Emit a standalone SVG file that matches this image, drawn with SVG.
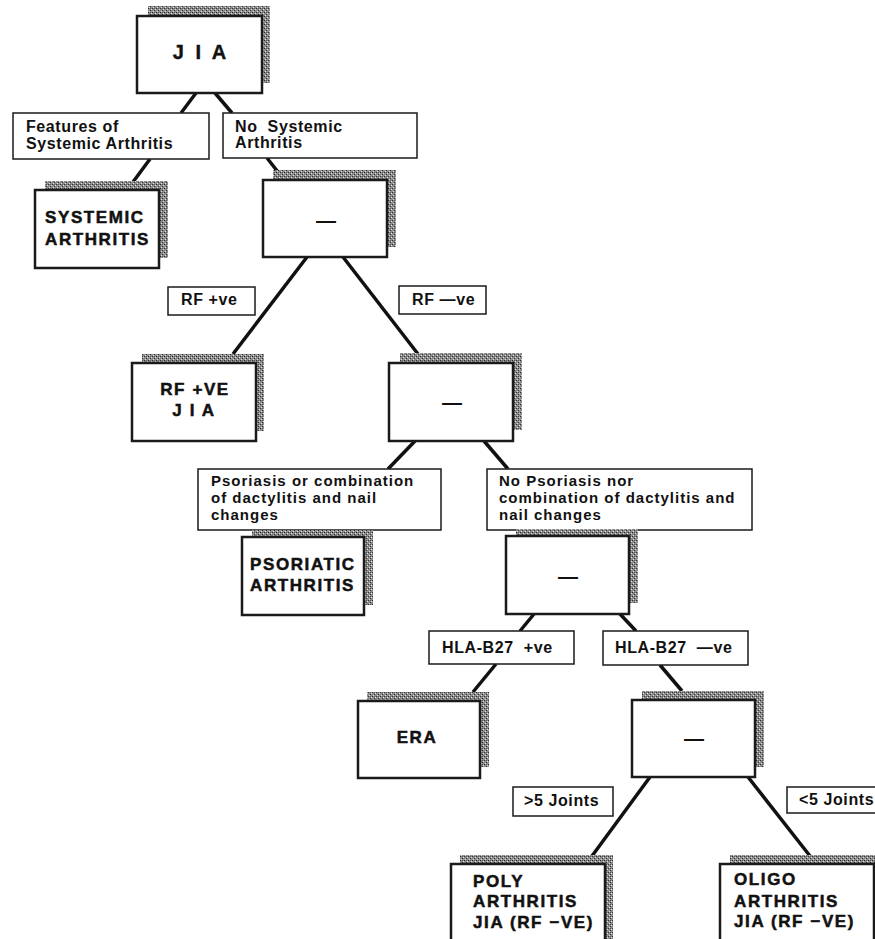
<svg xmlns="http://www.w3.org/2000/svg" width="875" height="939" viewBox="0 0 875 939">
<defs>
<pattern id="hatch" width="4" height="4" patternUnits="userSpaceOnUse">
<rect width="4" height="4" fill="#8c8c8c"/>
<rect x="0" y="0" width="1" height="1" fill="#2e2e2e"/>
<rect x="2" y="2" width="1" height="1" fill="#2e2e2e"/>
<rect x="2" y="0" width="1" height="1" fill="#555"/>
<rect x="1" y="3" width="1" height="1" fill="#dddddd"/>
<rect x="3" y="1" width="1" height="1" fill="#dddddd"/>
</pattern>
</defs>
<style>
.sh{fill:url(#hatch);}
.bx{fill:#fff;stroke:#1a1a1a;stroke-width:2.5;}
.lb{fill:#fff;stroke:#1a1a1a;stroke-width:1.5;}
.lt{font-family:"Liberation Sans",Arial,sans-serif;font-weight:bold;font-size:16px;letter-spacing:0.6px;fill:#111;}
.ls{font-family:"Liberation Sans",Arial,sans-serif;font-weight:bold;font-size:15px;letter-spacing:1px;fill:#111;}
.nt{font-family:"Liberation Sans",Arial,sans-serif;font-weight:900;font-size:17px;letter-spacing:1.6px;fill:#111;stroke:#111;stroke-width:0.5;}
.jt{font-family:"Liberation Sans",Arial,sans-serif;font-weight:bold;font-size:20px;letter-spacing:3px;fill:#111;stroke:#111;stroke-width:0.4;}
.dash{font-family:"Liberation Sans",Arial,sans-serif;font-weight:bold;font-size:20px;fill:#111;text-anchor:middle;}
.cn{stroke:#111;stroke-width:3.5;fill:none;stroke-linecap:butt;}
</style>
<rect width="875" height="939" fill="#fff"/>

<g id="connectors">
<line class="cn" x1="196" y1="93" x2="181" y2="113"/>
<line class="cn" x1="215" y1="93" x2="232" y2="113"/>
<line class="cn" x1="150" y1="159" x2="133" y2="182"/>
<line class="cn" x1="267" y1="158" x2="278" y2="172"/>
<line class="cn" x1="307" y1="257" x2="233" y2="354"/>
<line class="cn" x1="343" y1="257" x2="418" y2="354"/>
<line class="cn" x1="415" y1="441" x2="388" y2="469"/>
<line class="cn" x1="484" y1="441" x2="508" y2="469"/>
<line class="cn" x1="534" y1="614" x2="520" y2="631"/>
<line class="cn" x1="620" y1="614" x2="636" y2="631"/>
<line class="cn" x1="496" y1="664" x2="473" y2="692"/>
<line class="cn" x1="660" y1="665" x2="682" y2="691"/>
<line class="cn" x1="650" y1="777" x2="592" y2="856"/>
<line class="cn" x1="748" y1="777" x2="810" y2="856"/>
</g>

<g id="n-jia">
<rect class="sh" x="148" y="6" width="122" height="77"/>
<rect class="bx" x="137" y="16" width="125" height="77"/>
<text class="jt" x="201" y="59" text-anchor="middle">J I A</text>
</g>

<g id="l-features">
<rect class="lb" x="13" y="113" width="196" height="46"/>
<text class="lt" x="26" y="132">Features of</text>
<text class="lt" x="26" y="149">Systemic Arthritis</text>
</g>

<g id="l-nosys">
<rect class="lb" x="223" y="113" width="194" height="45"/>
<text class="lt" x="235" y="132" xml:space="preserve">No  Systemic</text>
<text class="lt" x="235" y="148">Arthritis</text>
</g>

<g id="n-systemic">
<rect class="sh" x="45" y="181" width="123" height="77"/>
<rect class="bx" x="35" y="190" width="124" height="78"/>
<text class="nt" x="45" y="223">SYSTEMIC</text>
<text class="nt" x="45" y="245">ARTHRITIS</text>
</g>

<g id="n-box2">
<rect class="sh" x="273" y="170" width="123" height="77"/>
<rect class="bx" x="263" y="180" width="124" height="77"/>
<text class="dash" x="326" y="227">—</text>
</g>

<g id="l-rfpos">
<rect class="lb" x="168" y="287" width="87" height="28"/>
<text class="lt" x="181" y="305">RF +ve</text>
</g>

<g id="l-rfneg">
<rect class="lb" x="399" y="286" width="87" height="28"/>
<text class="lt" x="412" y="305">RF —ve</text>
</g>

<g id="n-rfpos">
<rect class="sh" x="142" y="354" width="122" height="77"/>
<rect class="bx" x="132" y="363" width="124" height="78"/>
<text class="nt" x="195" y="395" text-anchor="middle">RF +VE</text>
<text class="nt" x="194" y="416" text-anchor="middle" xml:space="preserve">J I A</text>
</g>

<g id="n-box3">
<rect class="sh" x="400" y="353" width="122" height="77"/>
<rect class="bx" x="389" y="363" width="124" height="78"/>
<text class="dash" x="452" y="409">—</text>
</g>

<g id="l-psor">
<rect class="lb" x="198" y="469" width="243" height="61"/>
<text class="ls" x="211" y="486">Psoriasis or combination</text>
<text class="ls" x="211" y="503">of dactylitis and nail</text>
<text class="ls" x="211" y="520">changes</text>
</g>

<g id="l-nopsor">
<rect class="lb" x="487" y="469" width="265" height="61"/>
<text class="ls" x="499" y="486">No Psoriasis nor</text>
<text class="ls" x="499" y="503">combination of dactylitis and</text>
<text class="ls" x="499" y="520">nail changes</text>
</g>

<g id="n-psoriatic">
<rect class="sh" x="252" y="530" width="121" height="75"/>
<rect class="bx" x="242" y="537" width="122" height="78"/>
<text class="nt" x="250" y="570">PSORIATIC</text>
<text class="nt" x="250" y="591">ARTHRITIS</text>
</g>

<g id="n-box4">
<rect class="sh" x="516" y="529" width="122" height="74"/>
<rect class="bx" x="506" y="536" width="123" height="78"/>
<text class="dash" x="568" y="583">—</text>
</g>

<g id="l-hlapos">
<rect class="lb" x="429" y="631" width="145" height="33"/>
<text class="lt" x="442" y="653" xml:space="preserve">HLA-B27  +ve</text>
</g>

<g id="l-hlaneg">
<rect class="lb" x="603" y="631" width="145" height="34"/>
<text class="lt" x="615" y="653" xml:space="preserve">HLA-B27  —ve</text>
</g>

<g id="n-era">
<rect class="sh" x="367" y="692" width="122" height="75"/>
<rect class="bx" x="358" y="701" width="122" height="77"/>
<text class="nt" x="417" y="743" text-anchor="middle">ERA</text>
</g>

<g id="n-box5">
<rect class="sh" x="642" y="691" width="122" height="76"/>
<rect class="bx" x="632" y="700" width="123" height="77"/>
<text class="dash" x="694" y="745">—</text>
</g>

<g id="l-gt5">
<rect class="lb" x="513" y="787" width="100" height="29"/>
<text class="lt" x="524" y="806">&gt;5 Joints</text>
</g>

<g id="l-lt5">
<rect class="lb" x="787" y="787" width="95" height="26"/>
<text class="lt" x="799" y="805">&lt;5 Joints</text>
</g>

<g id="n-poly">
<rect class="sh" x="460" y="855" width="153" height="90"/>
<rect class="bx" x="451" y="864" width="154" height="90"/>
<text class="nt" x="473" y="887">POLY</text>
<text class="nt" x="473" y="907">ARTHRITIS</text>
<text class="nt" x="473" y="928">JIA (RF −VE)</text>
</g>

<g id="n-oligo">
<rect class="sh" x="730" y="855" width="155" height="90"/>
<rect class="bx" x="720" y="864" width="154" height="90"/>
<text class="nt" x="734" y="885">OLIGO</text>
<text class="nt" x="734" y="907">ARTHRITIS</text>
<text class="nt" x="734" y="927">JIA (RF −VE)</text>
</g>
</svg>
